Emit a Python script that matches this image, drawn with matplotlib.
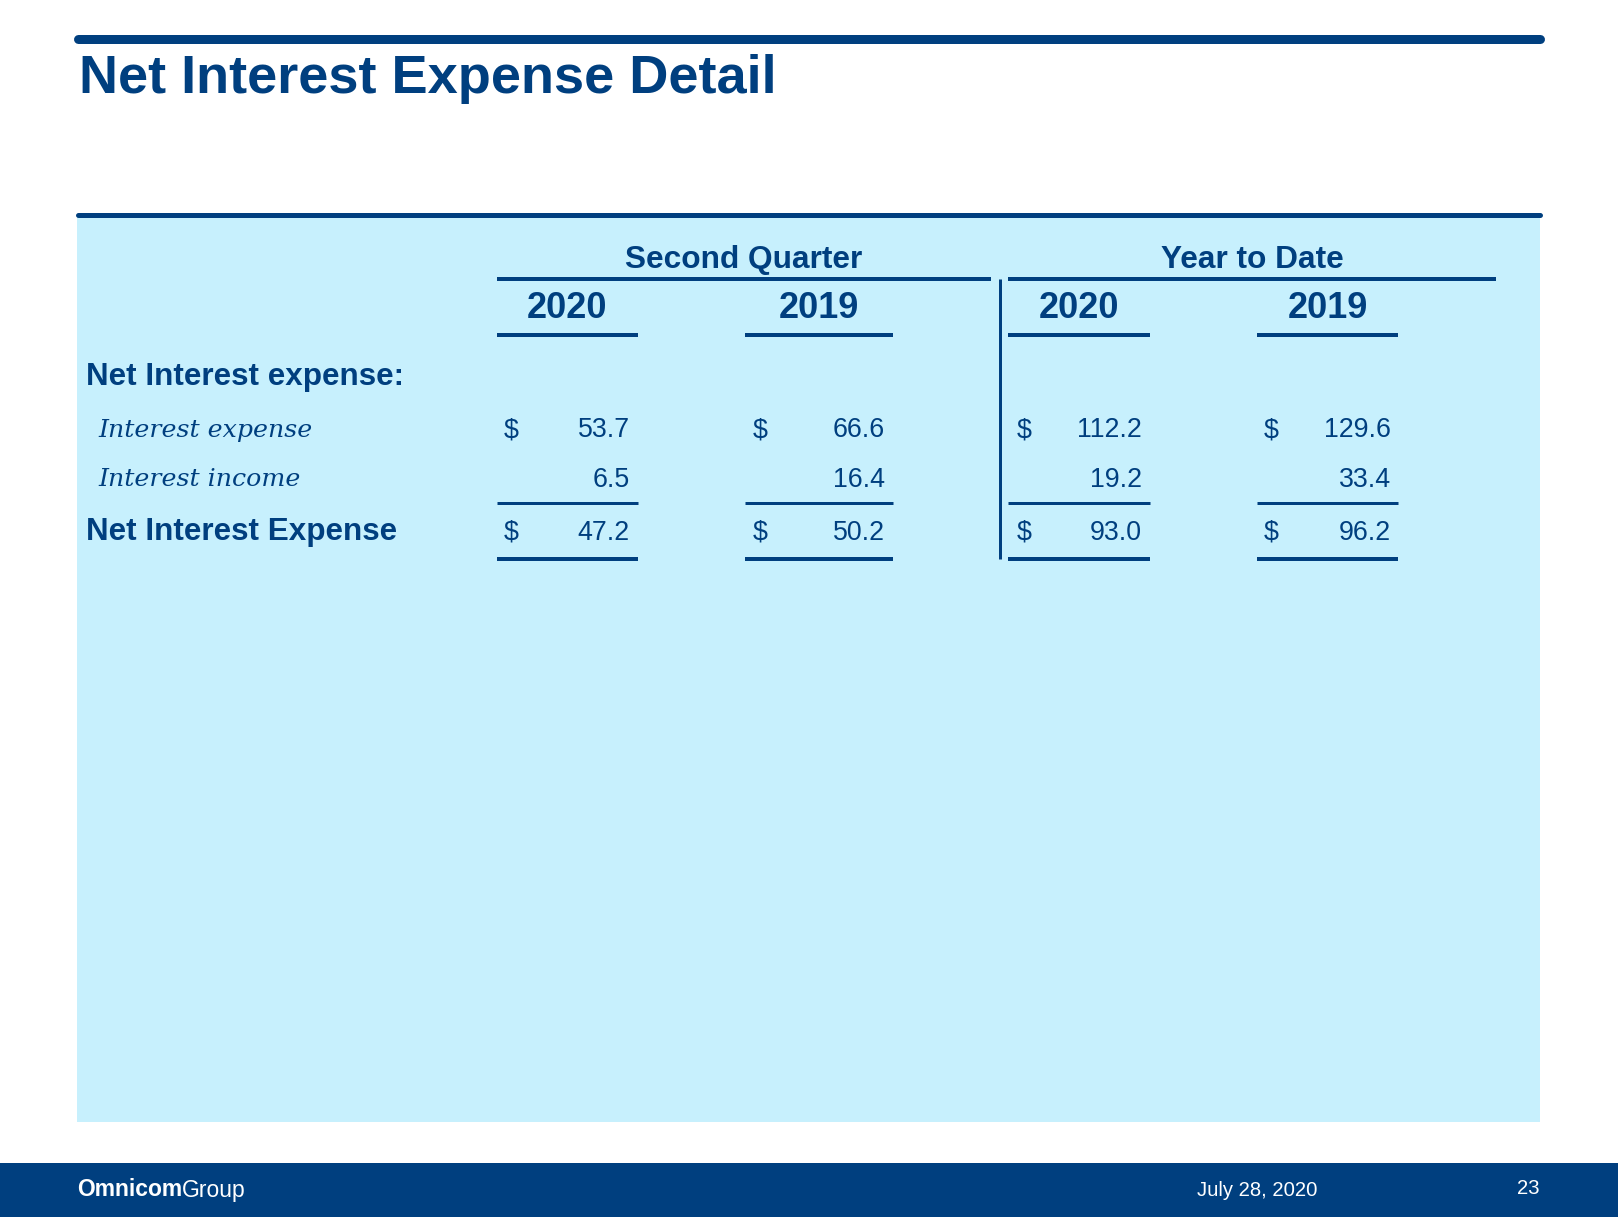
import matplotlib
matplotlib.use("Agg")
import matplotlib.pyplot as plt
from matplotlib.patches import Rectangle

# table content
title = "Net Interest Expense Detail"
groups = ["Second Quarter", "Year to Date"]
years = ["2020", "2019", "2020", "2019"]
section_label = "Net Interest expense:"
row_labels = ["Interest expense", "Interest income"]
total_label = "Net Interest Expense"
interest_expense = [53.7, 66.6, 112.2, 129.6]
interest_income = [6.5, 16.4, 19.2, 33.4]
net_interest = [47.2, 50.2, 93.0, 96.2]
footer_date = "July 28, 2020"
page_no = "23"

NAVY = "#003f7f"
LIGHT = "#c7f0fd"
W, H = 1618, 1217
PT = 72 / 100  # pixel -> point at dpi 100

fig = plt.figure(figsize=(W / 100, H / 100), dpi=100)
ax = fig.add_axes([0, 0, 1, 1])
ax.set_xlim(0, W)
ax.set_ylim(H, 0)
ax.axis("off")

sans = "Liberation Sans"

# title and top rule
ax.plot([78, 1540], [39, 39], color=NAVY, lw=9 * PT, solid_capstyle="round")
ax.text(79, 79, title, fontsize=39, fontweight="bold", color=NAVY,
        family=sans, va="center", ha="left")

# light panel
ax.add_patch(Rectangle((77, 215), 1463, 907, facecolor=LIGHT, edgecolor="none"))
ax.plot([78, 1540], [215, 215], color=NAVY, lw=5 * PT, solid_capstyle="round")

# group headers
group_span = [(497, 991), (1008, 1496)]
for name, (x0, x1) in zip(groups, group_span):
    ax.text((x0 + x1) / 2, 260, name, fontsize=22.8, fontweight="bold",
            color=NAVY, family=sans, ha="center", va="center")
    ax.plot([x0, x1], [279, 279], color=NAVY, lw=4 * PT, solid_capstyle="butt")

# column geometry
col_span = [(497, 638), (745, 893), (1008, 1150), (1257, 1398)]
dollar_x = [511, 760, 1024, 1271]
value_right = [630, 885, 1142, 1391]

for yr, (x0, x1) in zip(years, col_span):
    ax.text((x0 + x1) / 2, 309, yr, fontsize=26, fontweight="bold",
            color=NAVY, family=sans, ha="center", va="center")
    ax.plot([x0, x1], [335, 335], color=NAVY, lw=4 * PT, solid_capstyle="butt")
    ax.plot([x0, x1], [503, 503], color=NAVY, lw=3 * PT, solid_capstyle="butt")
    ax.plot([x0, x1], [559, 559], color=NAVY, lw=4 * PT, solid_capstyle="butt")

ax.plot([1000, 1000], [279, 559], color=NAVY, lw=3 * PT, solid_capstyle="butt")

# row labels
ax.text(86, 377, section_label, fontsize=22.6, fontweight="bold", color=NAVY,
        family=sans, va="center")
row_y = [430, 480]
for lab, y in zip(row_labels, row_y):
    ax.text(98, y, lab, fontsize=18.2, style="italic", color=NAVY,
            family="DejaVu Serif", va="center")
ax.text(86, 532, total_label, fontsize=22.6, fontweight="bold", color=NAVY,
        family=sans, va="center")

# values
vy = [430, 480, 533]
for i in range(4):
    ax.text(dollar_x[i], vy[0], "$", fontsize=19.3, color=NAVY, family=sans,
            ha="center", va="center")
    ax.text(value_right[i], vy[0], f"{interest_expense[i]:.1f}", fontsize=19.3,
            color=NAVY, family=sans, ha="right", va="center")
    ax.text(value_right[i], vy[1], f"{interest_income[i]:.1f}", fontsize=19.3,
            color=NAVY, family=sans, ha="right", va="center")
    ax.text(dollar_x[i], vy[2], "$", fontsize=19.3, color=NAVY, family=sans,
            ha="center", va="center")
    ax.text(value_right[i], vy[2], f"{net_interest[i]:.1f}", fontsize=19.3,
            color=NAVY, family=sans, ha="right", va="center")

# footer band
ax.add_patch(Rectangle((0, 1163), W, H - 1163, facecolor=NAVY, edgecolor="none"))
t1 = ax.text(77, 1190, "Omnicom", fontsize=16.5, fontweight="bold", color="white",
             family=sans, va="center", ha="left")
fig.canvas.draw()
bb = t1.get_window_extent()
x_end = ax.transData.inverted().transform((bb.x1, bb.y0))[0]
ax.text(x_end, 1190, "Group", fontsize=16.5, color="white", family=sans,
        va="center", ha="left")
ax.text(1197, 1191, footer_date, fontsize=14.6, color="white", family=sans,
        va="center", ha="left")
ax.text(1540, 1189, page_no, fontsize=14.6, color="white", family=sans,
        va="center", ha="right")

fig.savefig("out.png", dpi=100)
